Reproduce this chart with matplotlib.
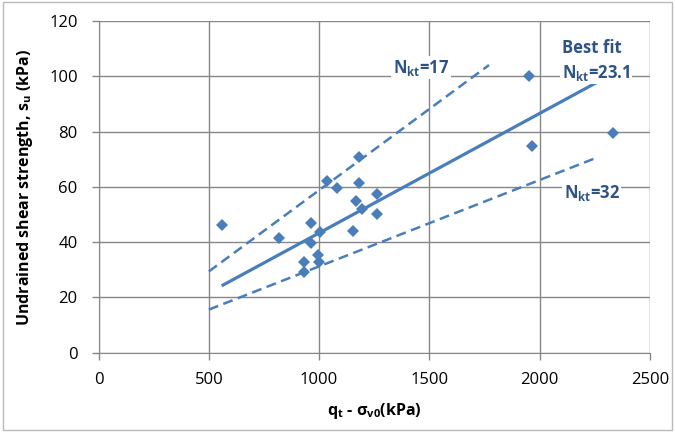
import matplotlib.pyplot as plt
from matplotlib.patches import Rectangle

plt.rcParams['font.family'] = ['Open Sans', 'DejaVu Sans']
plt.rcParams['mathtext.fontset'] = 'custom'
plt.rcParams['mathtext.rm'] = 'Open Sans'
plt.rcParams['mathtext.bf'] = 'Open Sans:bold'

# measured points
qnet = [558, 818, 931, 931, 961, 963, 996, 1000, 1004, 1034, 1079,
        1155, 1165, 1182, 1182, 1195, 1263, 1263, 1951, 1963, 2333]
su = [46.2, 41.4, 32.9, 29.3, 39.8, 47.0, 35.3, 32.9, 43.8, 62.1, 59.7,
      44.1, 55.0, 70.9, 61.3, 51.9, 57.4, 50.2, 100.1, 74.8, 79.6]

# correlation lines (end points)
fit_x = [558, 2300]
fit_y = [24.2, 99.6]
nkt17_x = [500, 1770]
nkt17_y = [29.4, 104.1]
nkt32_x = [500, 2265]
nkt32_y = [15.6, 70.8]

blue = '#4A7EBB'
txt = '#2E5486'
grid = '#878787'

fig = plt.figure(figsize=(6.75, 4.32), dpi=100)
ax = fig.add_axes([0.146, 0.1836, 0.817, 0.7675])

ax.plot(fit_x, fit_y, color=blue, lw=2.3, solid_capstyle='butt', zorder=3)
ax.plot(nkt17_x, nkt17_y, color=blue, lw=1.8, dashes=(4, 2.2), zorder=3)
ax.plot(nkt32_x, nkt32_y, color=blue, lw=1.8, dashes=(4, 2.2), zorder=3)
ax.plot(qnet, su, 'D', color=blue, markersize=6.3, markeredgewidth=0, zorder=4)

ax.set_xlim(0, 2500)
ax.set_ylim(0, 120)
ax.set_xticks(range(0, 2501, 500))
ax.set_yticks(range(0, 121, 20))
ax.grid(True, color=grid, lw=1)
ax.set_axisbelow(True)
for s in ['top', 'right']:
    ax.spines[s].set_visible(False)
for s in ['left', 'bottom']:
    ax.spines[s].set_color(grid)
ax.tick_params(colors=grid, labelcolor='black', labelsize=12, length=5, width=1,
               direction='out')
ax.tick_params(axis='x', pad=9)
ax.tick_params(axis='y', pad=10)

ax.set_xlabel(r'q$_\mathbf{t}$ - σ$_\mathbf{v0}$(kPa)', fontsize=11.5, fontweight='bold',
              labelpad=9)
ax.set_ylabel(r'Undrained shear strength, s$_\mathbf{u}$ (kPa)', fontsize=11.5,
              fontweight='bold', labelpad=10)

box = dict(facecolor='white', edgecolor='none', pad=1)
tkw = dict(color=txt, fontsize=12, fontweight='bold', bbox=box, ha='left',
           va='center', zorder=5)
ax.text(2100, 110.2, 'Best fit', **tkw)
ax.text(2100, 101.3, r'N$_\mathbf{kt}$=23.1', **tkw)
ax.text(1334, 103.2, r'N$_\mathbf{kt}$=17', **tkw)
ax.text(2109, 57.8, r'N$_\mathbf{kt}$=32', **tkw)

fig.patches.append(Rectangle((0.004, 0.004), 0.992, 0.992, transform=fig.transFigure,
                             fill=False, edgecolor='#BBBBBB', lw=1))

fig.savefig('out.png', dpi=100)
